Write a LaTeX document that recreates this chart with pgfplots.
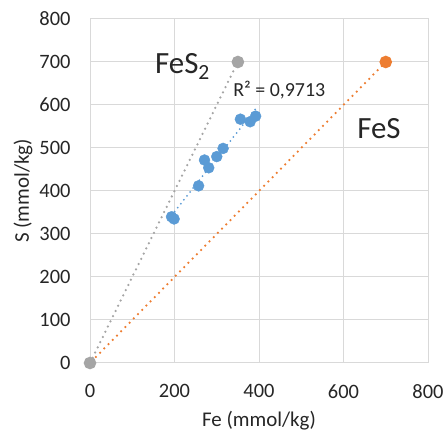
\documentclass[border=0pt]{standalone}
\usepackage{fontspec}
\setmainfont{Carlito}
\usepackage{pgfplots}
\pgfplotsset{compat=1.18}
\definecolor{ptblue}{HTML}{5B9BD5}
\definecolor{ptorange}{HTML}{ED7D31}
\definecolor{ptgray}{HTML}{A5A5A5}
\definecolor{gridc}{HTML}{D9D9D9}
\begin{document}
\begin{tikzpicture}[x=1bp,y=1bp]
\begin{axis}[
    scale only axis,
    width=338bp, height=344bp,
    xmin=0, xmax=800, ymin=0, ymax=800,
    xtick={0,200,...,800}, ytick={0,100,...,800},
    grid=major,
    grid style={gridc, line width=1bp},
    axis line style={gridc, line width=1bp},
    major tick length=0pt,
    tick label style={font=\fontsize{20.5}{22}\selectfont, text=black!85},
    /pgf/number format/assume math mode=true,
    xticklabel style={yshift=-18bp},
    yticklabel style={xshift=-16bp},
    xlabel={Fe (mmol/kg)}, ylabel={S (mmol/kg)},
    label style={font=\fontsize{21}{23}\selectfont, text=black!85},
    xlabel style={yshift=-6bp},
    ylabel style={yshift=0bp},
    clip=false,
]
% FeS2 reference line
\addplot[ptgray, line width=2.5bp, dash pattern=on 0pt off 5.8bp, line cap=round,
    mark=*, mark options={solid, fill=ptgray, draw=ptgray}, mark size=5bp]
    coordinates {(0,0) (350,700)};
% FeS reference line
\addplot[ptorange, line width=2.5bp, dash pattern=on 0pt off 6bp, line cap=round,
    mark=*, mark options={solid, fill=ptorange, draw=ptorange}, mark size=5bp]
    coordinates {(700,700)};
\addplot[ptorange, line width=2.5bp, dash pattern=on 0pt off 6bp, line cap=round]
    coordinates {(14,14) (700,700)};
\addplot[ptgray, mark=*, mark options={fill=ptgray, draw=ptgray}, mark size=5bp, only marks]
    coordinates {(0,0)};
% trend line
\addplot[ptblue, line width=2bp, dash pattern=on 0pt off 5bp, line cap=round]
    coordinates {(193,343) (392,591)};
% samples
\addplot[only marks, mark=*, mark size=5.5bp, mark options={fill=ptblue, draw=ptblue}]
    coordinates {
    (193,340) (199,335) (257,412) (271,472) (281,454)
    (300,480) (315,499) (356,567) (379,561) (392,574)
    };
\node[font=\fontsize{31}{33}\selectfont, text=black!85] at (axis cs:219,690) {FeS\textsubscript{2}};
\node[font=\fontsize{31}{33}\selectfont, text=black!85] at (axis cs:684,544) {FeS};
\node[font=\fontsize{20}{22}\selectfont, text=black!85] at (axis cs:448,635) {R² = 0,9713};
\end{axis}
\pgfresetboundingbox
\path[use as bounding box] (-90,-73) rectangle (355,363);
\end{tikzpicture}
\end{document}
